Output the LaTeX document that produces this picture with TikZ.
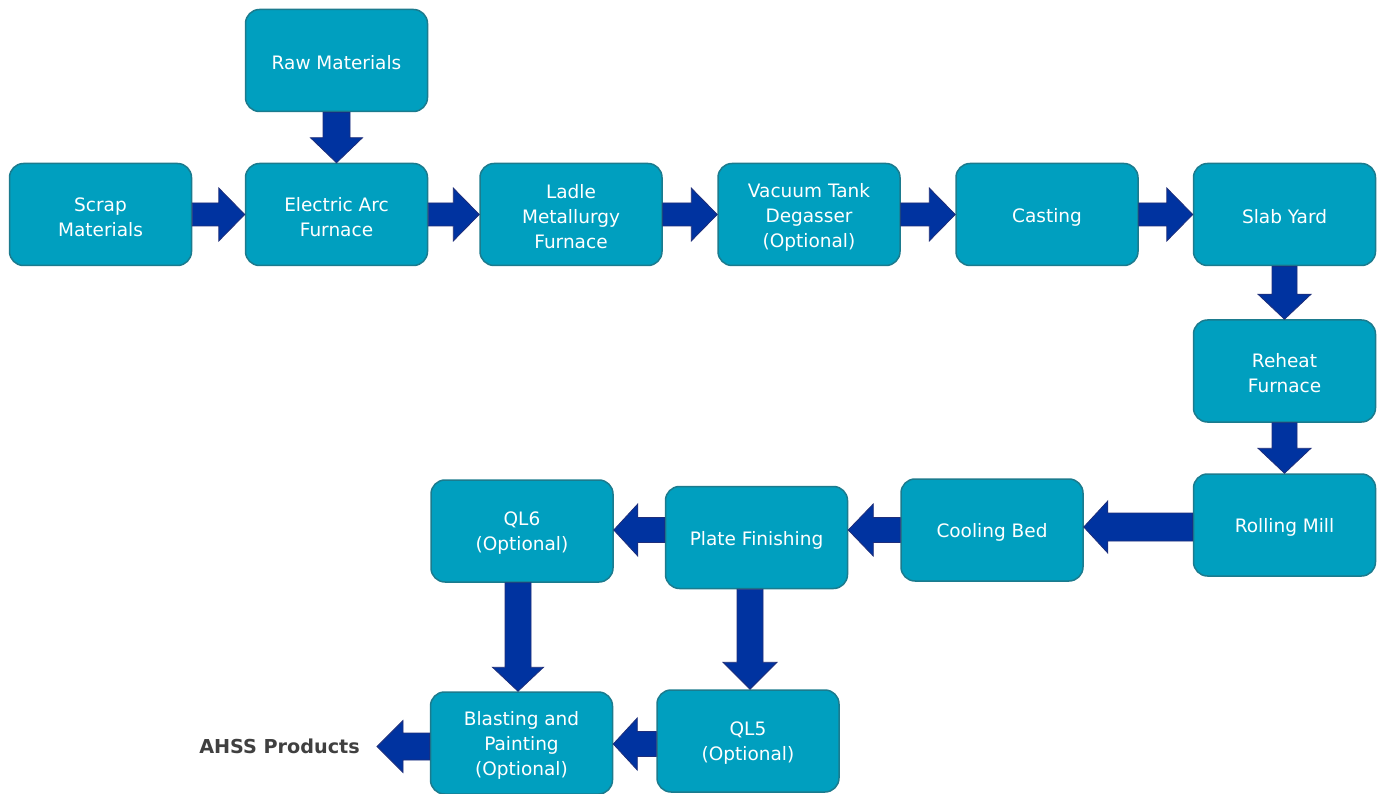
\documentclass[tikz,border=0pt]{standalone}
\usepackage{fontspec}
\setmainfont{DejaVu Sans}
\usetikzlibrary{calc}
\definecolor{boxfill}{HTML}{009FBF}
\definecolor{boxline}{HTML}{1B7B8E}
\definecolor{arrfill}{HTML}{0033A0}
\definecolor{arrline}{HTML}{1F2E7A}
\definecolor{txtgray}{HTML}{404040}
\tikzset{
  stagetext/.style={align=center, text=white, font=\fontsize{18.5}{25}\selectfont,
    inner sep=0pt, yshift=-2.5pt},
  stage/.style={draw=boxline, line width=1.5pt, fill=boxfill, rounded corners=14pt,
    minimum width=182pt, minimum height=102pt, inner sep=0pt,
    label={[stagetext]center:{#1}}},
  barrow/.style={fill=arrfill, draw=arrline, line width=0.8pt, line join=miter},
  endlabel/.style={font=\bfseries\fontsize{19.2}{22}\selectfont, text=txtgray, inner sep=0pt, anchor=east},
}
% #1 start, #2 tip, #3 half shaft, #4 half head, #5 head length
\newcommand\flowarrow[5]{%
  \coordinate (hb) at ($(#2)!#5!(#1)$);
  \filldraw[barrow] ($(#1)!#3!90:(#2)$) -- ($(hb)!#3!90:(#2)$) -- ($(hb)!#4!90:(#2)$)
    -- (#2) -- ($(hb)!#4!-90:(#2)$) -- ($(hb)!#3!-90:(#2)$) -- ($(#1)!#3!-90:(#2)$) -- cycle;
}
\begin{document}
\begin{tikzpicture}[x=1pt,y=-1pt]
\useasboundingbox (0,0) rectangle (1377,794);
% boxes
\node[stage={Raw Materials}] (raw)    at (336.5,60.5)  {};
\node[stage={Scrap\\Materials}] (scrap)  at (100.5,214.5) {};
\node[stage={Electric Arc\\Furnace}] (eaf)    at (336.5,214.5) {};
\node[stage={Ladle\\Metallurgy\\Furnace}] (ladle)  at (571,214.5)   {};
\node[stage={Vacuum Tank\\Degasser\\(Optional)}] (vac)    at (809,214.5)   {};
\node[stage={Casting}] (cast)   at (1047,214.5)  {};
\node[stage={Slab Yard}] (slab)   at (1284.5,214.5) {};
\node[stage={Reheat\\Furnace}] (reheat) at (1284.5,371)  {};
\node[stage={Rolling Mill}] (roll)   at (1284.5,525)  {};
\node[stage={Cooling Bed}] (cool)   at (992,530)     {};
\node[stage={Plate Finishing}] (plate)  at (756.5,537.5) {};
\node[stage={QL6\\(Optional)}] (ql6)    at (522,531)     {};
\node[stage={QL5\\(Optional)}] (ql5)    at (748,741)     {};
\node[stage={Blasting and\\Painting\\(Optional)}] (blast)  at (521.5,743)   {};
\node[endlabel] (ahss) at (360,746.5) {AHSS Products};
% helper coordinates
\coordinate (r1) at (roll.west |- 0,527);
\coordinate (c1) at (cool.east |- 0,527);
\coordinate (c2) at (cool.west |- 0,530);
\coordinate (p1) at (plate.east |- 0,530);
\coordinate (p2) at (plate.west |- 0,530);
\coordinate (q6a) at (ql6.east |- 0,530);
\coordinate (p3) at (plate.south -| 750,0);
\coordinate (q5a) at (ql5.north -| 750,0);
\coordinate (q6b) at (ql6.south -| 518,0);
\coordinate (b1) at (blast.north -| 518,0);
\coordinate (q5b) at (ql5.west |- 0,744);
\coordinate (b2) at (blast.east |- 0,744);
\coordinate (b3) at (blast.west |- 0,746.5);
\coordinate (ahtip) at ([xshift=17pt]ahss.east);
% arrows
\flowarrow{raw.south}{eaf.north}{13.5pt}{26pt}{25pt}
\flowarrow{scrap.east}{eaf.west}{11.5pt}{26.5pt}{26pt}
\flowarrow{eaf.east}{ladle.west}{11.5pt}{26.5pt}{26pt}
\flowarrow{ladle.east}{vac.west}{11.5pt}{26.5pt}{26pt}
\flowarrow{vac.east}{cast.west}{11.5pt}{26.5pt}{26pt}
\flowarrow{cast.east}{slab.west}{11.5pt}{26.5pt}{26pt}
\flowarrow{slab.south}{reheat.north}{12.5pt}{26.5pt}{25pt}
\flowarrow{reheat.south}{roll.north}{12.5pt}{26.5pt}{25pt}
\flowarrow{r1}{c1}{14pt}{26pt}{24pt}
\flowarrow{c2}{p1}{12.5pt}{26pt}{25pt}
\flowarrow{p2}{q6a}{12.5pt}{26pt}{24pt}
\flowarrow{p3}{q5a}{13pt}{27pt}{27pt}
\flowarrow{q6b}{b1}{13pt}{25.5pt}{24pt}
\flowarrow{q5b}{b2}{12.5pt}{26pt}{24pt}
\flowarrow{b3}{ahtip}{13.5pt}{26pt}{26pt}
\end{tikzpicture}
\end{document}
